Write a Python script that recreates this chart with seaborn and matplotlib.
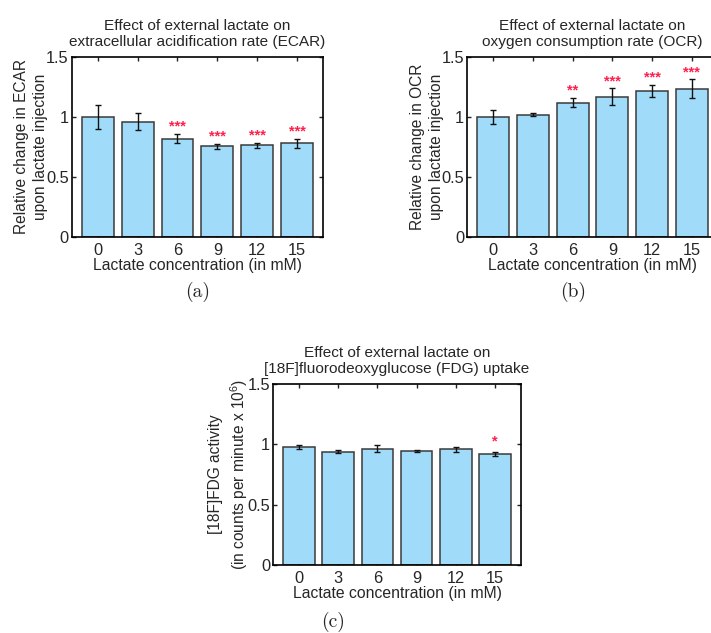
import numpy as np
import pandas as pd
import matplotlib
matplotlib.use("Agg")
import matplotlib.pyplot as plt
import seaborn as sns

# ---- data ----
conc = ["0", "3", "6", "9", "12", "15"]
ecar_mean = [1.00, 0.96, 0.82, 0.755, 0.765, 0.78]
ecar_err = [0.10, 0.07, 0.04, 0.02, 0.02, 0.04]
ecar_sig = ["", "", "***", "***", "***", "***"]

ocr_mean = [1.00, 1.02, 1.12, 1.17, 1.22, 1.235]
ocr_err = [0.06, 0.015, 0.04, 0.07, 0.05, 0.08]
ocr_sig = ["", "", "**", "***", "***", "***"]

fdg_mean = [0.98, 0.94, 0.965, 0.945, 0.96, 0.92]
fdg_err = [0.015, 0.01, 0.03, 0.01, 0.02, 0.015]
fdg_sig = ["", "", "", "", "", "*"]

titles = ["Effect of external lactate on\nextracellular acidification rate (ECAR)",
          "Effect of external lactate on\noxygen consumption rate (OCR)",
          "Effect of external lactate on\n[18F]fluorodeoxyglucose (FDG) uptake"]
ylabels = ["Relative change in ECAR\nupon lactate injection",
           "Relative change in OCR\nupon lactate injection",
           "[18F]FDG activity\n(in counts per minute x 10$^6$)"]
xlabel = "Lactate concentration (in mM)"
captions = ["(a)", "(b)", "(c)"]
yticks = [0, 0.5, 1, 1.5]
yticklabels = ["0", "0.5", "1", "1.5"]

sns.set_style("white")
plt.rcParams["font.family"] = ["Liberation Sans", "DejaVu Sans"]
plt.rcParams["mathtext.fontset"] = "custom"
plt.rcParams["mathtext.rm"] = "Liberation Sans"

W, H = 711, 633
fig = plt.figure(figsize=(W / 100, H / 100), dpi=100)

BAR = "#a0dcfa"
EDGE = "#3a3a3a"
RED = "#ff1f4b"

def px_axes(l, r, t, b):
    return fig.add_axes([l / W, 1 - b / H, (r - l) / W, (b - t) / H])

specs = [
    (px_axes(71.5, 323.3, 57, 237), ecar_mean, ecar_err, ecar_sig, 0.06),
    (px_axes(467, 718, 57, 237), ocr_mean, ocr_err, ocr_sig, 0.06),
    (px_axes(273, 521, 384, 565), fdg_mean, fdg_err, fdg_sig, 0.09),
]

for i, (ax, mean, err, sig, off) in enumerate(specs):
    df = pd.DataFrame({"conc": conc, "val": mean})
    sns.barplot(data=df, x="conc", y="val", ax=ax, color=BAR, saturation=1,
                width=0.8, edgecolor=EDGE, linewidth=1.1, errorbar=None)
    xs = np.arange(len(conc))
    ax.errorbar(xs, mean, yerr=err, fmt="none", ecolor="#111111",
                elinewidth=1.0, capsize=2.2, capthick=1.0, zorder=5)
    for x, m, e, s in zip(xs, mean, err, sig):
        if s:
            ax.text(x, m + e + off, s, color=RED, ha="center", va="center",
                    fontsize=10.5, fontweight="bold")
    ax.set_xlim(-0.66, 5.66)
    ax.set_ylim(0, 1.5)
    ax.set_yticks(yticks)
    ax.set_yticklabels(yticklabels)
    ax.tick_params(axis="both", direction="in", length=3, width=1,
                   labelsize=11.8, top=True, right=True, bottom=True, left=True,
                   pad=2, color="#222222")
    ax.tick_params(axis="x", pad=4)
    for sp in ax.spines.values():
        sp.set_visible(True)
        sp.set_color("black")
        sp.set_linewidth(1.2)
    ax.set_xlabel(xlabel, fontsize=11.3, labelpad=0)
    ax.set_ylabel(ylabels[i], fontsize=11.2, labelpad=-1.5, linespacing=1.3)
    ax.set_title(titles[i], fontsize=11.1, pad=8, linespacing=1.15)

fig.text(197.5 / W, 1 - 292 / H, captions[0], ha="center", va="center",
         fontsize=14, family="cmr10")
fig.text(573 / W, 1 - 292 / H, captions[1], ha="center", va="center",
         fontsize=14, family="cmr10")
fig.text(333 / W, 1 - 622 / H, captions[2], ha="center", va="center",
         fontsize=14, family="cmr10")

fig.savefig("out.png", dpi=100)
